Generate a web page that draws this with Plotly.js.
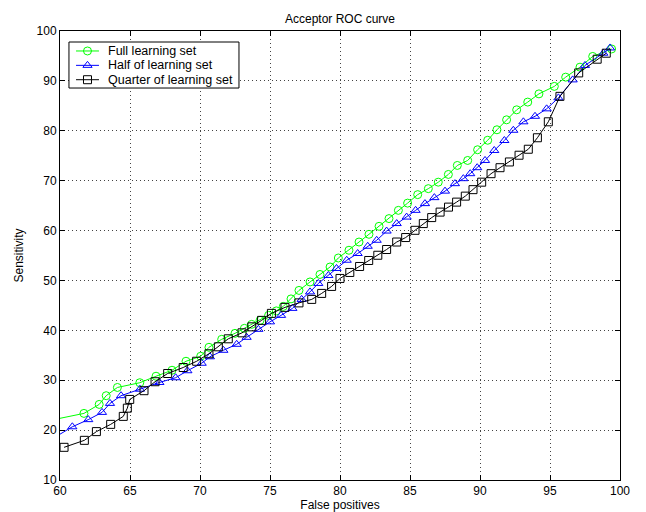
<!DOCTYPE html>
<html>
<head>
<meta charset="utf-8">
<script src="https://cdn.plot.ly/plotly-3.0.1.min.js"></script>
<style>html,body{margin:0;padding:0;background:#fff;}#chart{width:646px;height:512px;}</style>
</head>
<body>
<div id="chart"></div>
<script>
const seriesNames = ["Full learning set", "Half of learning set", "Quarter of learning set"];

const fullX = [58.5, 61.71, 62.8, 63.3, 64.1, 65.7, 66.86, 68.0, 69.0, 70.05, 70.64, 71.55, 72.5, 73.17, 73.69, 74.29, 74.9, 75.45, 75.95, 76.5, 77.07, 77.86, 78.57, 79.29, 79.88, 80.64, 81.36, 82.07, 82.79, 83.5, 84.17, 84.83, 85.55, 86.31, 87.02, 87.74, 88.38, 89.12, 89.83, 90.55, 91.21, 91.9, 92.62, 93.41, 94.21, 95.31, 96.12, 97.14, 98.05, 99.4];
const fullY = [21.5, 23.35, 25.15, 26.9, 28.55, 29.5, 30.8, 32.0, 33.8, 34.8, 36.6, 38.2, 39.4, 40.4, 41.2, 42.0, 43.0, 43.9, 44.8, 46.3, 48.0, 49.7, 51.2, 52.7, 54.5, 56.05, 57.7, 59.25, 60.85, 62.4, 64.05, 65.5, 67.2, 68.4, 69.7, 71.25, 73.05, 74.05, 76.2, 78.1, 80.2, 82.2, 84.2, 85.75, 87.4, 88.9, 90.75, 92.75, 94.9, 96.4];

const halfX = [59.3, 60.88, 62.02, 63.0, 63.57, 64.36, 65.71, 67.1, 68.26, 69.1, 70.12, 70.71, 71.67, 72.62, 73.33, 74.17, 75.0, 75.79, 76.6, 77.26, 77.86, 78.45, 79.17, 79.75, 80.48, 81.26, 81.98, 82.62, 83.33, 84.05, 84.76, 85.4, 86.07, 86.74, 87.5, 88.21, 88.81, 89.3, 89.8, 90.36, 91.02, 91.74, 92.38, 93.1, 93.93, 94.76, 95.6, 96.62, 97.5, 98.81, 99.29];
const halfY = [18.0, 20.67, 22.1, 23.55, 25.35, 26.9, 28.2, 29.55, 30.5, 31.9, 33.4, 34.7, 36.0, 37.2, 38.6, 40.2, 41.7, 43.0, 44.4, 46.2, 47.7, 49.4, 51.0, 52.4, 54.05, 55.4, 56.85, 58.05, 59.9, 61.4, 62.7, 64.05, 65.4, 66.6, 67.9, 69.4, 70.4, 71.4, 72.6, 74.05, 76.05, 78.05, 80.1, 81.8, 82.9, 84.4, 86.6, 90.2, 93.1, 95.55, 96.6];

const quarterX = [60.29, 61.74, 62.6, 63.62, 64.52, 64.81, 64.98, 66.0, 66.79, 67.69, 68.8, 69.76, 70.64, 71.31, 72.02, 73.0, 73.7, 74.4, 75.1, 76.07, 77.07, 77.98, 78.69, 79.4, 80.0, 80.7, 81.4, 82.05, 82.7, 83.33, 84.05, 84.69, 85.36, 85.95, 86.55, 87.15, 87.75, 88.33, 88.95, 89.5, 90.12, 90.79, 91.43, 92.1, 92.79, 93.45, 94.1, 94.88, 95.71, 97.05, 98.37, 99.02];
const quarterY = [16.55, 17.95, 19.7, 21.15, 22.75, 24.4, 26.15, 27.9, 29.7, 31.35, 32.55, 33.8, 35.3, 36.7, 38.3, 39.5, 40.7, 42.0, 43.4, 44.6, 45.5, 46.2, 47.4, 48.8, 50.4, 51.6, 52.8, 54.0, 55.05, 56.2, 57.7, 58.6, 60.05, 61.4, 62.6, 63.7, 64.7, 65.7, 66.9, 68.2, 69.7, 71.4, 72.6, 73.75, 75.1, 76.3, 78.6, 81.8, 86.9, 91.6, 94.35, 95.55];

const xTicks = [60, 65, 70, 75, 80, 85, 90, 95, 100];
const yTicks = [10, 20, 30, 40, 50, 60, 70, 80, 90, 100];

const colors = ["#00ff00", "#0000ff", "#000000"];
const symbols = ["circle-open", "triangle-up-open", "square-open"];

const FONT = "Liberation Sans, Arial, Helvetica, sans-serif";
const MSIZE = 8;

function mk(x, y, i) {
  return {
    x: x, y: y, name: seriesNames[i], type: "scatter", mode: "lines+markers",
    line: {color: colors[i], width: 1},
    marker: {symbol: symbols[i], size: MSIZE, color: colors[i], line: {color: colors[i], width: 1}},
    cliponaxis: true, showlegend: false
  };
}

const data = [
  mk(fullX, fullY, 0),
  mk(halfX, halfY, 1),
  mk(quarterX, quarterY, 2)
];

// Compact MATLAB-style legend box, drawn as shapes in plot-fraction (paper) units
const legX0 = 0.016, legX1 = 0.3196, legY0 = 0.873, legY1 = 0.9755;
const rowY = [0.9555, 0.9235, 0.8915];
const sampleX0 = 0.0286, sampleX1 = 0.0696, sampleXm = 0.0491, textX = 0.0821;
const none = "rgba(0,0,0,0)";

const shapes = [{
  type: "rect", xref: "paper", yref: "paper", x0: legX0, x1: legX1, y0: legY0, y1: legY1,
  line: {color: "#000", width: 1}, fillcolor: "#fff", layer: "above"
}];
const annotations = [];
const markerPaths = [
  null,
  "M-4.62,-2 L4.62,-2 L0,4 Z",
  null
];
for (let i = 0; i < 3; i++) {
  shapes.push({
    type: "line", xref: "paper", yref: "paper", x0: sampleX0, x1: sampleX1, y0: rowY[i], y1: rowY[i],
    line: {color: colors[i], width: 1}, layer: "above"
  });
  const base = {
    xref: "paper", yref: "paper", xsizemode: "pixel", ysizemode: "pixel",
    xanchor: sampleXm, yanchor: rowY[i], line: {color: colors[i], width: 1},
    fillcolor: none, layer: "above"
  };
  if (i === 0) shapes.push(Object.assign({type: "circle", x0: -4, x1: 4, y0: -4, y1: 4}, base));
  if (i === 1) shapes.push(Object.assign({type: "path", path: markerPaths[1]}, base));
  if (i === 2) shapes.push(Object.assign({type: "rect", x0: -4, x1: 4, y0: -4, y1: 4}, base));
  annotations.push({
    xref: "paper", yref: "paper", x: textX, y: rowY[i], xanchor: "left", yanchor: "middle",
    text: seriesNames[i], showarrow: false, font: {family: FONT, size: 12.5, color: "#000"}
  });
}

const axisCommon = {
  showline: true, linecolor: "#000", linewidth: 1, mirror: "allticks",
  ticks: "inside", ticklen: 5, tickcolor: "#000", tickwidth: 1,
  showgrid: true, gridcolor: "#444", gridwidth: 1, griddash: "1px,3px",
  zeroline: false, tickfont: {family: FONT, size: 12, color: "#000"}
};

const layout = {
  width: 646, height: 512,
  margin: {l: 60, r: 26, t: 31, b: 32, pad: 0},
  paper_bgcolor: "#fff", plot_bgcolor: "#fff",
  font: {family: FONT, size: 12, color: "#000"},
  title: {text: "Acceptor ROC curve", font: {family: FONT, size: 12, color: "#000"}, x: 0.5, xref: "paper", y: 0.963, yanchor: "middle"},
  xaxis: Object.assign({}, axisCommon, {
    range: [60, 100], tickvals: xTicks, ticktext: xTicks.map(String),
    title: {text: "False positives", font: {family: FONT, size: 12, color: "#000"}, standoff: 1}
  }),
  yaxis: Object.assign({}, axisCommon, {
    range: [10, 100], tickvals: yTicks, ticktext: yTicks.map(String),
    title: {text: "Sensitivity", font: {family: FONT, size: 12, color: "#000"}, standoff: 10}
  }),
  shapes: shapes,
  annotations: annotations,
  showlegend: false
};

Plotly.newPlot("chart", data, layout, {displayModeBar: false, staticPlot: true});
</script>
</body>
</html>
